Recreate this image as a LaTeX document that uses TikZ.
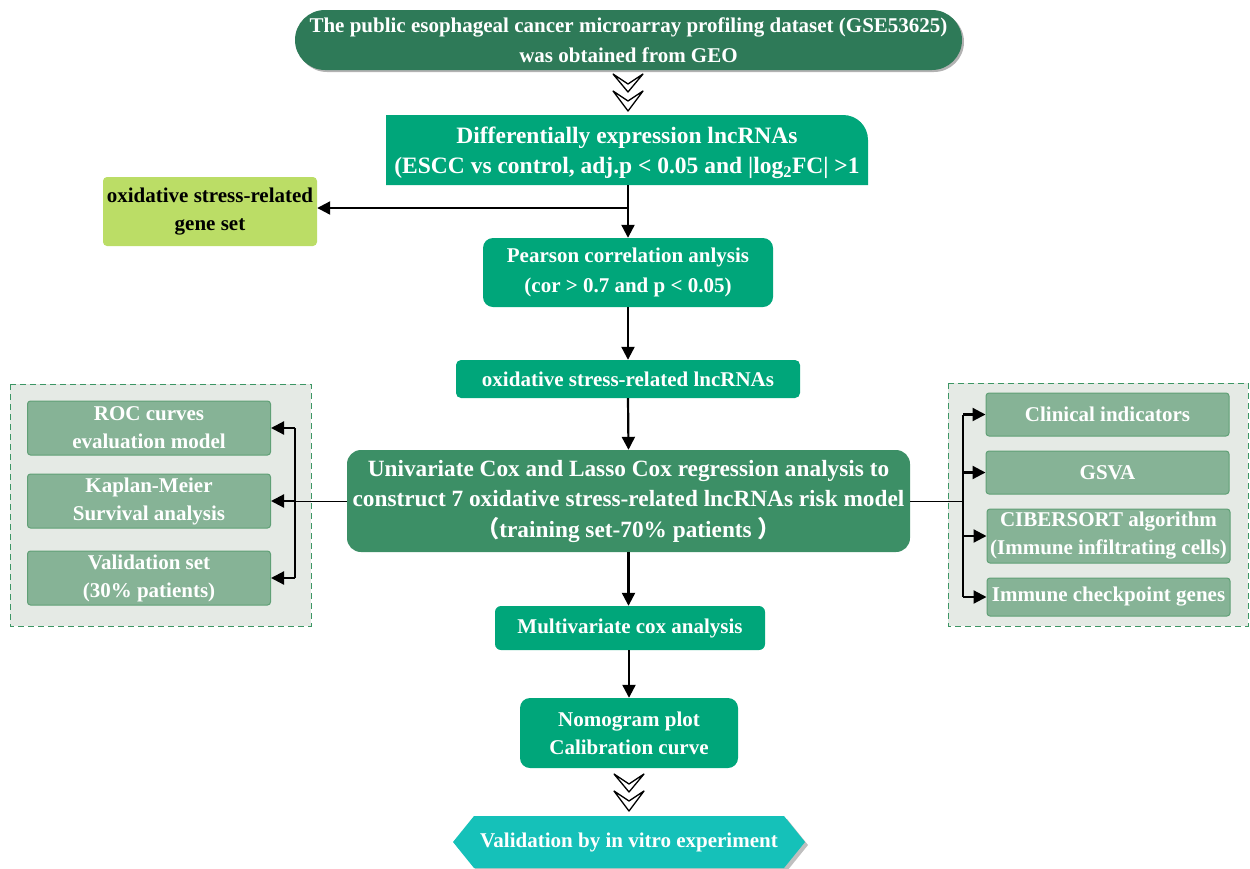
\documentclass[tikz,border=0pt]{standalone}
\usepackage{fontspec}
\setmainfont{Liberation Serif}
\newfontfamily\cjkfont{Noto Sans CJK SC}
\usetikzlibrary{arrows.meta,calc,shadows}
\definecolor{cdark}{RGB}{46,122,88}
\definecolor{cmain}{RGB}{0,166,122}
\definecolor{cuni}{RGB}{60,143,102}
\definecolor{cside}{RGB}{134,179,150}
\definecolor{csideb}{RGB}{96,160,118}
\definecolor{cpanel}{RGB}{229,234,229}
\definecolor{cpanelb}{RGB}{60,150,100}
\definecolor{clime}{RGB}{187,221,102}
\definecolor{cteal}{RGB}{21,193,185}
\begin{document}
\begin{tikzpicture}[x=1pt,y=-1pt,
  txt/.style={align=center, inner sep=0pt, text=white, font=\bfseries\fontsize{21}{28}\selectfont},
  mainbox/.style={txt, fill=cmain, rounded corners=10pt},
  sidebox/.style={txt, fill=cside, draw=csideb, line width=1pt, rounded corners=3pt, minimum width=243pt},
  panel/.style={fill=cpanel, draw=cpanelb, line width=0.9pt, dash pattern=on 6pt off 4pt},
  arr/.style={line width=2.2pt, -{Triangle[length=13pt,width=13pt]}},
  ln/.style={line width=2.2pt},
  thinln/.style={line width=1pt},
  chev/.style={draw=black, fill=white, line width=1.3pt, line join=round}
]
\useasboundingbox (0,0) rectangle (1250,868);

% top pill
\node[txt, fill=cdark, rounded corners=30pt, minimum width=667pt, minimum height=60pt,
  font=\bfseries\fontsize{21}{30}\selectfont,
  drop shadow={shadow xshift=2pt, shadow yshift=-2pt, fill=black, opacity=0.3}] (geo) at (628.5,40)
  {The public esophageal cancer microarray profiling dataset (GSE53625)\\was obtained from GEO};

% chevrons 1
\draw[chev] (613,74) -- (628,84) -- (643,74) -- (628,92) -- cycle;
\draw[chev] (613,91) -- (628,101) -- (643,91) -- (628,111) -- cycle;

% differential box with one rounded corner
\fill[cmain] (386,185) -- (386,115) -- (843,115) .. controls (857,115) and (868,126) .. (868,140) -- (868,185) -- cycle;
\node[txt, minimum width=482pt, minimum height=70pt, font=\bfseries\fontsize{23.5}{30}\selectfont] (diff) at (627,153)
  {Differentially expression lncRNAs\\(ESCC vs control, adj.p < 0.05 and |log\textsubscript{2}FC| >1};

% gene set
\node[txt, text=black, fill=clime, rounded corners=4pt, minimum width=214pt, minimum height=69pt] (gene) at (210,211.5)
  {oxidative stress-related\\gene set};

% pearson
\node[mainbox, minimum width=290pt, minimum height=69pt, font=\bfseries\fontsize{21}{30}\selectfont] (pear) at (628,272.5)
  {Pearson correlation anlysis\\(cor > 0.7 and p < 0.05)};

% lncRNAs
\node[mainbox, rounded corners=5pt, minimum width=344pt, minimum height=38pt] (lnc) at (628,379)
  {oxidative stress-related lncRNAs};

% univariate
\node[txt, fill=cuni, rounded corners=14pt, minimum width=563pt, minimum height=102pt,
  font=\bfseries\fontsize{23.3}{30.5}\selectfont] (uni) at (628.5,501)
  {Univariate Cox and Lasso Cox regression analysis to\\construct 7 oxidative stress-related lncRNAs risk model\\{\cjkfont （}training set-70\% patients {\cjkfont ）}};

% multivariate
\node[mainbox, rounded corners=6pt, minimum width=270pt, minimum height=44pt] (multi) at (630,628)
  {Multivariate cox analysis};

% nomogram
\node[mainbox, minimum width=218pt, minimum height=70pt] (nomo) at (629,733)
  {Nomogram plot\\Calibration curve};

% chevrons 2
\draw[chev] (614,774) -- (629,784) -- (644,774) -- (629,792) -- cycle;
\draw[chev] (614,791) -- (629,801) -- (644,791) -- (629,811) -- cycle;

% hexagon with shadow
\fill[black!25] (456,845) -- (477,819) -- (787,819) -- (808,845) -- (787,871) -- (477,871) -- cycle;
\fill[cteal] (453,842) -- (474,816) -- (784,816) -- (805,842) -- (784,868) -- (474,868) -- cycle;
\node[txt, minimum width=330pt, minimum height=52pt] (valid) at (629,842) {Validation by in vitro experiment};

% left panel
\draw[panel] (10,384) rectangle (311,626);
\node[sidebox, minimum height=54pt] (roc) at (149,428) {ROC curves\\evaluation model};
\node[sidebox, minimum height=54pt] (km) at (149,501) {Kaplan-Meier\\Survival analysis};
\node[sidebox, minimum height=54pt] (vset) at (149,578) {Validation set\\(30\% patients)};

% right panel
\draw[panel] (948,383) rectangle (1248,626);
\node[sidebox, minimum height=43pt] (clin) at (1107.5,414.5) {Clinical indicators};
\node[sidebox, minimum height=43pt] (gsva) at (1107.5,472.5) {GSVA};
\node[sidebox, minimum height=54pt] (cib) at (1108.5,536) {CIBERSORT algorithm\\(Immune infiltrating cells)};
\node[sidebox, minimum height=38pt] (imm) at (1108.5,597) {Immune checkpoint genes};

% main flow connectors
\coordinate (br) at (628,208);
\coordinate (dtop) at (628,185);
\draw[ln] (dtop) -- (br);
\draw[arr] (br) -- (gene.east |- br);
\draw[arr] (br) -- (pear.north -| br);
\draw[arr] (pear.south) -- (lnc.north);
\draw[arr] (lnc.south) -- (uni.north);
\draw[arr] (uni.south) -- (uni.south |- multi.north);
\draw[arr] (multi.south -| nomo.north) -- (nomo.north);

% left connectors
\coordinate (lv) at (295,501);
\draw[thinln] (uni.west) -- (lv);
\draw[ln] (lv |- roc.east) -- (lv |- vset.east);
\draw[arr] (lv) -- (km.east);
\draw[arr] (lv |- roc.east) -- (roc.east);
\draw[arr] (lv |- vset.east) -- (vset.east);

% right connectors
\coordinate (rv) at (963,501);
\draw[thinln] (uni.east) -- (rv);
\draw[ln] (rv |- clin.west) -- (rv |- imm.west);
\draw[arr] (rv |- clin.west) -- (clin.west);
\draw[arr] (rv |- gsva.west) -- (gsva.west);
\draw[arr] (rv |- cib.west) -- (cib.west);
\draw[arr] (rv |- imm.west) -- (imm.west);
\end{tikzpicture}
\end{document}
